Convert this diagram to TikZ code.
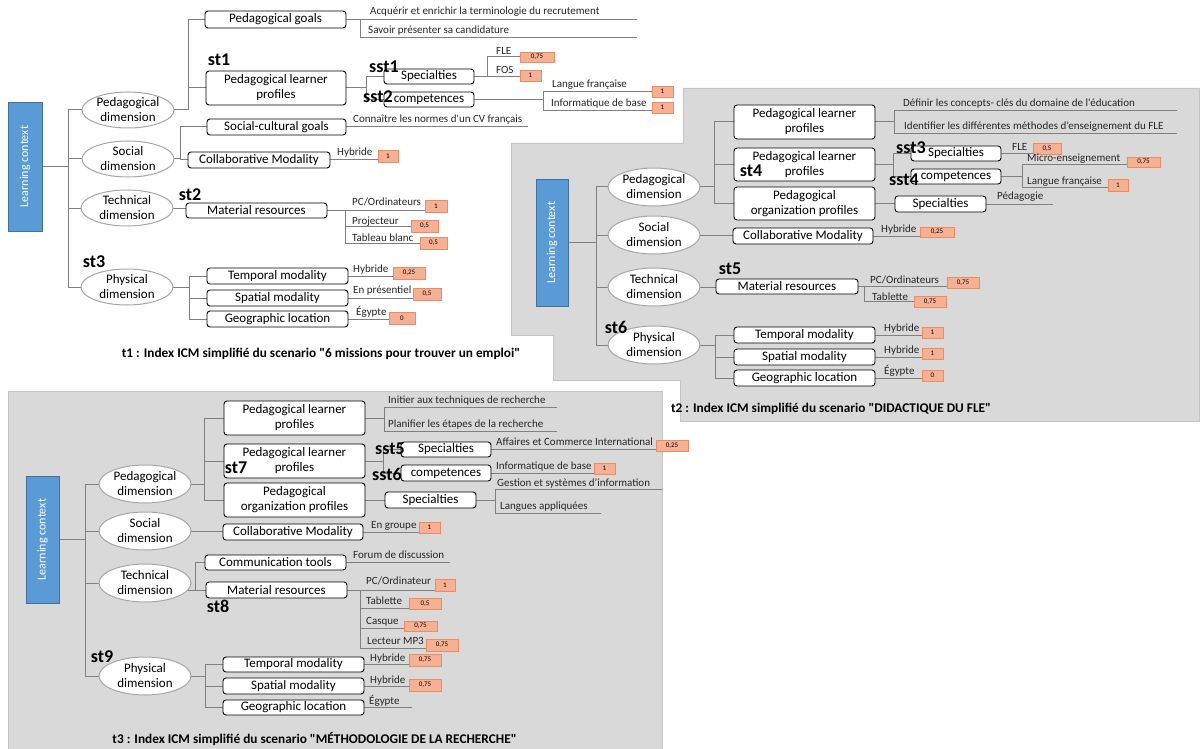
\documentclass[tikz,border=0pt]{standalone}
\usepackage{fontspec}
\setmainfont{Carlito}[Ligatures=TeXOff]
\usepackage{graphicx}
\usetikzlibrary{shapes.geometric,calc}
\definecolor{panel}{RGB}{217,217,217}
\definecolor{panelline}{RGB}{196,196,196}
\definecolor{lcblue}{RGB}{91,155,213}
\definecolor{lcline}{RGB}{65,113,156}
\definecolor{scfill}{RGB}{246,176,148}
\definecolor{scline}{RGB}{237,140,100}
\definecolor{connc}{RGB}{128,128,128}
\definecolor{ellc}{RGB}{166,166,166}
\pgfdeclarelayer{bg}
\pgfsetlayers{bg,main}
\tikzset{
 conn/.style={draw=connc, line width=1pt},
 bx/.style={draw=black, fill=white, rounded corners=3pt, line width=0.9pt, inner sep=0pt, outer sep=0pt, align=center, font=\fontsize{13}{15}\selectfont},
 scb/.style={draw=scline, fill=scfill, line width=0.8pt, inner sep=0pt, outer sep=0pt, font=\fontsize{7}{8}\selectfont},
 dim/.style={ellipse, draw=ellc, fill=white, line width=1pt, minimum width=92pt, minimum height=38pt, inner sep=0pt, outer sep=0pt},
 dimtxt/.style={align=center, font=\fontsize{13}{15}\selectfont, inner sep=0pt},
 itm/.style={anchor=base west, inner sep=0pt, font=\fontsize{11}{13}\selectfont, text=black!85},
 lbl/.style={font=\fontsize{18}{20}\selectfont\bfseries, inner sep=0pt},
 capt/.style={font=\fontsize{13.3}{15}\selectfont\bfseries, inner sep=0pt},
 lcbox/.style={draw=lcline, fill=lcblue, text=white, inner sep=0pt, outer sep=0pt, font=\fontsize{12}{14}\selectfont, line width=0.8pt},
}
\newcommand\BX[7]{\node[#1, minimum width={(#5)-(#3)}, minimum height={(#6)-(#4)}] (#2) at ({((#3)+(#5))/2},{((#4)+(#6))/2}) {#7};}
\newcommand\DIM[4]{\node[dim, #4] (#1) at (#2) {}; \node[dimtxt] (#1t) at (#1.center) {#3};}
\begin{document}
\begin{tikzpicture}[x=1pt,y=-1pt]
\useasboundingbox (0,0) rectangle (1200,749);
% ===================== t1 =====================
\BX{lcbox}{lc1}{8}{102}{42}{231}{\rotatebox{90}{Learning context}}
\DIM{pa}{128,110}{Pedagogical\\dimension}{minimum height=36pt}
\DIM{sa}{128,159}{Social\\dimension}{minimum height=36pt}
\DIM{ta}{127,208}{Technical\\dimension}{minimum height=36pt}
\DIM{ha}{127,287}{Physical\\dimension}{minimum height=36pt}
\BX{bx}{pga}{205}{11}{346}{28}{Pedagogical goals}
\BX{bx}{lpa}{206}{71}{346}{105}{Pedagogical learner\\profiles}
\BX{bx}{spa}{384}{69}{474}{84}{Specialties}
\BX{bx}{cpa}{384}{92}{474}{107}{competences}
\BX{bx}{sga}{207}{119}{346}{135}{Social-cultural goals}
\BX{bx}{cma}{188}{152}{330}{168}{Collaborative Modality}
\BX{bx}{mra}{186}{203}{327}{218}{Material resources}
\BX{bx}{tma}{207}{268}{348}{284}{Temporal modality}
\BX{bx}{sma}{207}{290}{348}{306}{Spatial modality}
\BX{bx}{gla}{207}{311}{348}{327}{Geographic location}
\BX{scb}{sa1}{520}{52}{554}{62}{0,75}
\BX{scb}{sa2}{520}{70}{541}{81}{1}
\BX{scb}{sa3}{652}{86}{673}{97}{1}
\BX{scb}{sa4}{652}{102}{673}{113}{1}
\BX{scb}{sa5}{378}{150}{398}{162}{1}
\BX{scb}{sa6}{425}{200}{447}{212}{1}
\BX{scb}{sa7}{411}{220}{438}{232}{0,5}
\BX{scb}{sa8}{420}{237}{447}{249}{0,5}
\BX{scb}{sa9}{393}{267}{425}{279}{0,25}
\BX{scb}{sa10}{413}{288}{441}{300}{0,5}
\BX{scb}{sa11}{389}{312}{415}{324}{0}
\node[itm] (ia1) at (370,15) {Acquérir et enrichir la terminologie du recrutement};
\node[itm] (ia2) at (368,34) {Savoir présenter sa candidature};
\node[itm] (ia3) at (496,55) {FLE};
\node[itm] (ia4) at (496,74) {FOS};
\node[itm] (ia5) at (552,88) {Langue française};
\node[itm] (ia6) at (551,107) {Informatique de base};
\node[itm] (ia7) at (353,123) {Connaître les normes d'un CV français};
\node[itm] (ia8) at (337,156) {Hybride};
\node[itm] (ia9) at (352,205) {PC/Ordinateurs};
\node[itm] (ia10) at (352,224) {Projecteur};
\node[itm] (ia11) at (352,241) {Tableau blanc};
\node[itm] (ia12) at (353,272) {Hybride};
\node[itm] (ia13) at (353,293) {En présentiel};
\node[itm] (ia14) at (356,315) {Égypte};
\node[lbl] (st1) at (219,60) {st1};
\node[lbl] (sst1) at (384,67) {sst1};
\node[lbl] (sst2) at (378,97) {sst2};
\node[lbl] (st2) at (190,195) {st2};
\node[lbl] (st3) at (94,262) {st3};
\node[capt] (cap1) at (321,354) {t1 : Index ICM simplifié du scenario "6 missions pour trouver un emploi"};
% ===================== t2 =====================
\BX{lcbox}{lc2}{536}{179}{568}{306}{\rotatebox{90}{Learning context}}
\DIM{pb}{654,187}{Pedagogical\\dimension}{}
\DIM{sb}{654,235}{Social\\dimension}{}
\DIM{tb}{654,287}{Technical\\dimension}{}
\DIM{hb}{654,345}{Physical\\dimension}{}
\BX{bx}{lpb1}{734}{105}{875}{139}{Pedagogical learner\\profiles}
\BX{bx}{lpb2}{734}{148}{875}{181}{Pedagogical learner\\profiles}
\BX{bx}{opb}{734}{187}{875}{220}{Pedagogical\\organization profiles}
\BX{bx}{spb}{911}{146}{1001}{161}{Specialties}
\BX{bx}{cpb}{911}{169}{1001}{184}{competences}
\BX{bx}{ssb}{895}{196}{986}{212}{Specialties}
\BX{bx}{cmb}{733}{228}{873}{244}{Collaborative Modality}
\BX{bx}{mrb}{716}{279}{858}{294}{Material resources}
\BX{bx}{tmb}{734}{327}{875}{343}{Temporal modality}
\BX{bx}{smb}{734}{349}{875}{365}{Spatial modality}
\BX{bx}{glb}{734}{370}{875}{386}{Geographic location}
\BX{scb}{sb1}{1033}{143}{1061}{154}{0,5}
\BX{scb}{sb2}{1127}{157}{1160}{167}{0,75}
\BX{scb}{sb3}{1108}{179}{1128}{191}{1}
\BX{scb}{sb4}{920}{227}{954}{237}{0,25}
\BX{scb}{sb5}{947}{277}{979}{288}{0,75}
\BX{scb}{sb6}{914}{296}{946}{307}{0,75}
\BX{scb}{sb7}{922}{327}{943}{338}{1}
\BX{scb}{sb8}{922}{348}{943}{359}{1}
\BX{scb}{sb9}{922}{370}{943}{381}{0}
\node[itm] (ib1) at (903,107) {Définir les concepts- clés du domaine de l'éducation};
\node[itm] (ib2) at (904,130) {Identifier les différentes méthodes d’enseignement du FLE};
\node[itm] (ib3) at (1012,150) {FLE};
\node[itm] (ib4) at (1027,161) {Micro-enseignement};
\node[itm] (ib5) at (1027,185) {Langue française};
\node[itm] (ib6) at (997,200) {Pédagogie};
\node[itm] (ib7) at (881,233) {Hybride};
\node[itm] (ib8) at (870,283) {PC/Ordinateurs};
\node[itm] (ib9) at (872,300) {Tablette};
\node[itm] (ib10) at (884,331) {Hybride};
\node[itm] (ib11) at (884,353) {Hybride};
\node[itm] (ib12) at (884,374) {Égypte};
\node[lbl] (st4) at (751,171) {st4};
\node[lbl] (sst3) at (911,148) {sst3};
\node[lbl] (sst4) at (904,180) {sst4};
\node[lbl] (st5) at (730,269) {st5};
\node[lbl] (st6) at (616,327) {st6};
\node[capt] (cap2) at (831,409) {t2 : Index ICM simplifié du scenario "DIDACTIQUE DU FLE"};
% ===================== t3 =====================
\BX{lcbox}{lc3}{26}{476}{59}{603}{\rotatebox{90}{Learning context}}
\DIM{pc}{145,484}{Pedagogical\\dimension}{}
\DIM{sdc}{145,531}{Social\\dimension}{}
\DIM{tc}{145,583}{Technical\\dimension}{}
\DIM{hc}{145,676}{Physical\\dimension}{}
\BX{bx}{lpc1}{224}{401}{365}{435}{Pedagogical learner\\profiles}
\BX{bx}{lpc2}{224}{444}{365}{478}{Pedagogical learner\\profiles}
\BX{bx}{opc}{224}{483}{365}{517}{Pedagogical\\organization profiles}
\BX{bx}{spc}{401}{442}{491}{457}{Specialties}
\BX{bx}{cpc}{401}{465}{491}{481}{competences}
\BX{bx}{ssc}{385}{492}{476}{508}{Specialties}
\BX{bx}{cmc}{223}{524}{363}{540}{Collaborative Modality}
\BX{bx}{ctc}{205}{555}{346}{570}{Communication tools}
\BX{bx}{mrc}{206}{582}{347}{598}{Material resources}
\BX{bx}{tmc}{223}{657}{364}{672}{Temporal modality}
\BX{bx}{smc}{223}{678}{364}{694}{Spatial modality}
\BX{bx}{glc}{223}{700}{364}{715}{Geographic location}
\BX{scb}{sc1}{656}{440}{688}{451}{0,25}
\BX{scb}{sc2}{594}{463}{615}{474}{1}
\BX{scb}{sc3}{419}{522}{440}{533}{1}
\BX{scb}{sc4}{435}{579}{455}{591}{1}
\BX{scb}{sc5}{409}{598}{441}{609}{0,5}
\BX{scb}{sc6}{404}{621}{437}{631}{0,75}
\BX{scb}{sc7}{426}{639}{458}{651}{0,75}
\BX{scb}{sc8}{409}{654}{441}{666}{0,75}
\BX{scb}{sc9}{409}{679}{441}{691}{0,75}
\node[itm] (ic1) at (388,403) {Initier aux techniques de recherche};
\node[itm] (ic2) at (388,427) {Planifier les étapes de la recherche};
\node[itm] (ic3) at (496,445) {Affaires et Commerce International};
\node[itm] (ic4) at (496,469) {Informatique de base};
\node[itm] (ic5) at (497,486) {Gestion et systèmes d’information};
\node[itm] (ic6) at (500,509) {Langues appliquées};
\node[itm] (ic7) at (371,528) {En groupe};
\node[itm] (ic8) at (353,558) {Forum de discussion};
\node[itm] (ic9) at (366,584) {PC/Ordinateur};
\node[itm] (ic10) at (366,604) {Tablette};
\node[itm] (ic11) at (366,624) {Casque};
\node[itm] (ic12) at (367,644) {Lecteur MP3};
\node[itm] (ic13) at (370,661) {Hybride};
\node[itm] (ic14) at (370,683) {Hybride};
\node[itm] (ic15) at (369,704) {Égypte};
\node[lbl] (st7) at (236,468) {st7};
\node[lbl] (sst5) at (390,449) {sst5};
\node[lbl] (sst6) at (387,474) {sst6};
\node[lbl] (st8) at (218,606) {st8};
\node[lbl] (st9) at (102,657) {st9};
\node[capt] (cap3) at (314.5,739) {t3 : Index ICM simplifié du scenario "MÉTHODOLOGIE DE LA RECHERCHE"};
% ===================== background: panels and connectors =====================
\begin{pgfonlayer}{bg}
\filldraw[fill=panel, draw=panelline, line width=0.8pt] (683,88) -- (1199.5,88) -- (1199.5,421) -- (680,421) -- (680,380) -- (553,380) -- (553,335) -- (511,335) -- (511,143) -- (683,143) -- cycle;
\filldraw[fill=panel, draw=panelline, line width=0.8pt] (8,391) rectangle (662,749.5);
% ---- t1 connectors
\coordinate (ja) at (68,0);
\draw[conn] (lc1.east) -- (lc1.east -| ja);
\draw[conn] (pa.west -| ja) -- (ha.west -| ja);
\foreach \n in {pa,sa,ta,ha} \draw[conn] (\n.west -| ja) -- (\n.west);
\draw[conn] (pa.east) -- ++(14,0) coordinate (jpa) |- (pga.west);
\draw[conn] (jpa) |- (lpa.west);
\coordinate (ea1) at (637,19.5);
\coordinate (ea2) at (637,38);
\draw[conn] (pga.east) -- (ea1);
\draw[conn] (pga.east) ++(14,0) |- (ea2);
\draw[conn] (lpa.east) -- ++(20,0) coordinate (jqa) |- (spa.west);
\draw[conn] (jqa) |- (cpa.west);
\draw[conn] (spa.east) -- (spa.east -| sa2.west);
\draw[conn] (spa.east) ++(13,0) |- (sa1.west);
\coordinate (jsa1) at (543,92);
\coordinate (jsa2) at (543,111);
\draw[conn] (cpa.east) -- (cpa.east -| jsa1);
\draw[conn] (jsa1) -- (jsa2);
\draw[conn] (jsa1) -- (jsa1 -| sa3.west);
\draw[conn] (jsa2) -- (jsa2 -| sa4.west);
\draw[conn] (sa.east) -- ++(6,0) coordinate (jta) |- (sga.west);
\draw[conn] (jta) |- (cma.west);
\coordinate (ea3) at (528,127);
\draw[conn] (sga.east) -- (sga.east -| ea3);
\draw[conn] (cma.east) -- (cma.east -| sa5.west);
\draw[conn] (ta.east) -- (ta.east -| mra.west);
\coordinate (jua) at (345,0);
\draw[conn] (mra.east) -- (mra.east -| sa6.west);
\draw[conn] (mra.east -| jua) -- (jua |- sa8.west) -- (sa8.west);
\draw[conn] (jua |- sa7.west) -- (sa7.west);
\draw[conn] (ha.east) -- ++(16,0) coordinate (jva);
\draw[conn] (jva |- tma.west) -- (jva |- gla.west);
\foreach \n in {tma,sma,gla} \draw[conn] (jva |- \n.west) -- (\n.west);
\draw[conn] (tma.east) -- (tma.east -| sa9.west);
\draw[conn] (sma.east) -- (sma.east -| sa10.west);
\draw[conn] (gla.east) -- (gla.east -| sa11.west);
% ---- t2 connectors
\coordinate (jb) at (596,0);
\draw[conn] (lc2.east) -- (lc2.east -| jb);
\draw[conn] (pb.west -| jb) -- (hb.west -| jb);
\foreach \n in {pb,sb,tb,hb} \draw[conn] (\n.west -| jb) -- (\n.west);
\draw[conn] (pb.east) -- ++(14,0) coordinate (jpb) |- (lpb1.west);
\draw[conn] (jpb) |- (lpb2.west);
\draw[conn] (jpb) |- (opb.west);
\coordinate (eb1) at (1177,111);
\coordinate (eb2) at (1177,134);
\draw[conn] (lpb1.east) -- ++(19,0) coordinate (jqb) |- (eb1);
\draw[conn] (jqb) |- (eb2);
\draw[conn] (lpb2.east) -- ++(18,0) coordinate (jrb) |- (spb.west);
\draw[conn] (jrb) |- (cpb.west);
\draw[conn] (spb.east) -- (spb.east -| sb1.west);
\coordinate (jsb1) at (1022,165);
\coordinate (jsb2) at (1022,188);
\draw[conn] (cpb.east) -- (cpb.east -| jsb1);
\draw[conn] (jsb1) -- (jsb2);
\draw[conn] (jsb1) -- (jsb1 -| sb2.west);
\draw[conn] (jsb2) -- (jsb2 -| sb3.west);
\draw[conn] (opb.east) -- (opb.east -| ssb.west);
\coordinate (eb3) at (1053,204);
\draw[conn] (ssb.east) -- (ssb.east -| eb3);
\draw[conn] (sb.east) -- (sb.east -| cmb.west);
\draw[conn] (cmb.east) -- (cmb.east -| sb4.west);
\draw[conn] (tb.east) -- (tb.east -| mrb.west);
\draw[conn] (mrb.east) -- (mrb.east -| sb5.west);
\draw[conn] (mrb.east) ++(6,0) |- (sb6.west);
\draw[conn] (hb.east) -- ++(15,0) coordinate (jvb);
\draw[conn] (jvb |- tmb.west) -- (jvb |- glb.west);
\foreach \n in {tmb,smb,glb} \draw[conn] (jvb |- \n.west) -- (\n.west);
\draw[conn] (tmb.east) -- (tmb.east -| sb7.west);
\draw[conn] (smb.east) -- (smb.east -| sb8.west);
\draw[conn] (glb.east) -- (glb.east -| sb9.west);
% ---- t3 connectors
\coordinate (jc) at (85,0);
\draw[conn] (lc3.east) -- (lc3.east -| jc);
\draw[conn] (pc.west -| jc) -- (hc.west -| jc);
\foreach \n in {pc,sdc,tc,hc} \draw[conn] (\n.west -| jc) -- (\n.west);
\draw[conn] (pc.east) -- ++(13,0) coordinate (jpc) |- (lpc1.west);
\draw[conn] (jpc) |- (lpc2.west);
\draw[conn] (jpc) |- (opc.west);
\coordinate (ec1) at (557,407);
\coordinate (ec2) at (557,431);
\draw[conn] (lpc1.east) -- ++(19,0) coordinate (jqc) |- (ec1);
\draw[conn] (jqc) |- (ec2);
\draw[conn] (lpc2.east) -- ++(18,0) coordinate (jrc) |- (spc.west);
\draw[conn] (jrc) |- (cpc.west);
\draw[conn] (spc.east) -- (spc.east -| sc1.west);
\draw[conn] (cpc.east) -- (cpc.east -| sc2.west);
\draw[conn] (opc.east) -- (opc.east -| ssc.west);
\coordinate (ec3) at (662,489);
\coordinate (ec4) at (601,513);
\draw[conn] (ssc.east) -- ++(19,0) coordinate (jsc) |- (ec3);
\draw[conn] (jsc) |- (ec4);
\draw[conn] (sdc.east) -- (sdc.east -| cmc.west);
\draw[conn] (cmc.east) -- (cmc.east -| sc3.west);
\coordinate (jtc) at (195,0);
\draw[conn] (tc.-10) -- (tc.-10 -| mrc.west);
\draw[conn] (tc.-10 -| jtc) |- (ctc.west);
\coordinate (ec5) at (450,562.5);
\draw[conn] (ctc.east) -- (ctc.east -| ec5);
\coordinate (juc) at (360,0);
\coordinate (jc5) at (360,608);
\coordinate (jc6) at (360,628);
\coordinate (jc7) at (360,648);
\draw[conn] (mrc.east) -- (mrc.east -| sc4.west);
\draw[conn] (mrc.east -| juc) -- (jc7);
\draw[conn] (jc5) -- (jc5 -| sc5.west);
\draw[conn] (jc6) -- (jc6 -| sc6.west);
\draw[conn] (jc7) -- (jc7 -| sc7.west);
\draw[conn] (hc.east) -- ++(14,0) coordinate (jvc);
\draw[conn] (jvc |- tmc.west) -- (jvc |- glc.west);
\foreach \n in {tmc,smc,glc} \draw[conn] (jvc |- \n.west) -- (\n.west);
\draw[conn] (tmc.east) -- (tmc.east -| sc8.west);
\draw[conn] (smc.east) -- (smc.east -| sc9.west);
\coordinate (ec6) at (412,707.5);
\draw[conn] (glc.east) -- (glc.east -| ec6);
\end{pgfonlayer}
\end{tikzpicture}
\end{document}
